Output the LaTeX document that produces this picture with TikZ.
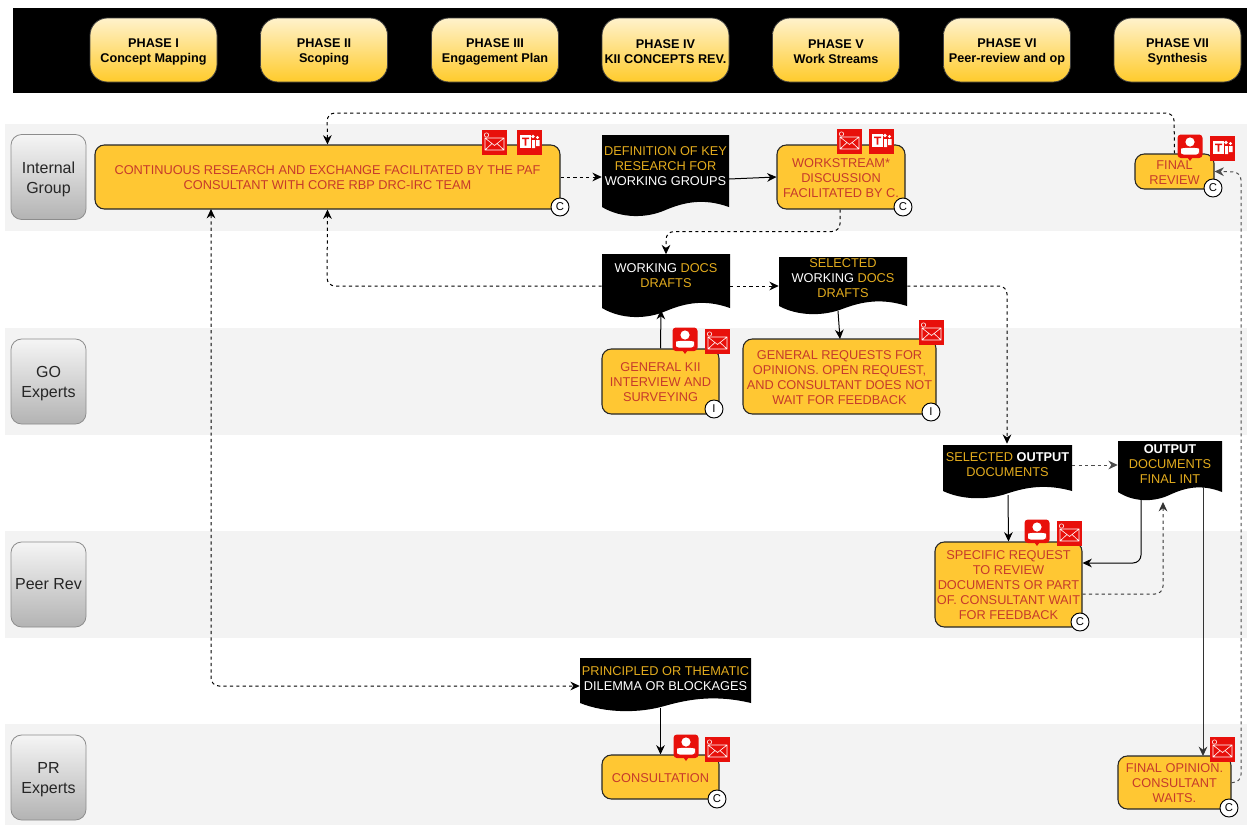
\documentclass[tikz,border=0pt]{standalone}
\usepackage{fontspec}
\setmainfont{Liberation Sans}
\usetikzlibrary{arrows.meta,calc,shadows}
\definecolor{lanegray}{HTML}{F3F3F3}
\definecolor{boxfill}{HTML}{FFC733}
\definecolor{boxtext}{HTML}{C63A2B}
\definecolor{gold}{HTML}{E3AC1E}
\definecolor{iconred}{HTML}{E8100B}
\definecolor{phasetop}{HTML}{FFF2CC}
\definecolor{phasebot}{HTML}{FFCB2B}
\definecolor{lanetop}{HTML}{F5F5F5}
\definecolor{lanebot}{HTML}{B3B3B3}
\newcommand{\wh}[1]{\textcolor{white}{#1}}
\newcommand{\phst}{\rule{0pt}{9.1pt}}
\newcommand{\tkst}{\rule{0pt}{8pt}}
\newcommand{\lnst}{\rule{0pt}{11.8pt}}
\newcommand{\docshape}[5]{% x0,y0,x1,yb (wave start), amp
  \fill[black] (#1,#2) -- (#3,#2) -- (#3,#4)
    .. controls ($(#3,#4)+({-0.2*(#3-#1)},-#5*0.9)$) and ($(#3,#4)+({-0.35*(#3-#1)},-#5*0.5)$) .. ({(#1+#3)/2},{#4+#5*0.3})
    .. controls ({#1+0.35*(#3-#1)},{#4+#5*1.15}) and ({#1+0.15*(#3-#1)},{#4+#5*1.15}) .. (#1,#4) -- cycle;}
\tikzset{
  lane/.style={fill=lanegray,draw=none},
  phasebox/.style={rounded corners=13,draw=black!75,line width=.6pt,top color=phasetop,bottom color=phasebot,
    minimum width=127*.75pt,minimum height=64*.75pt,align=center,font=\fontsize{9.5}{11.25}\selectfont\bfseries,text=black,inner sep=0pt},
  lanelabel/.style={rounded corners=8,draw=black!45,line width=.6pt,top color=lanetop,bottom color=lanebot,
    minimum width=75*.75pt,minimum height=85*.75pt,align=center,font=\fontsize{12}{15}\selectfont,text=black!85,inner sep=0pt},
  task/.style={rounded corners=7,draw=black!85,line width=.8pt,fill=boxfill,text=boxtext,align=center,
    font=\fontsize{9.58}{11.25}\selectfont,inner sep=0pt},
  doctext/.style={align=center,font=\fontsize{9.58}{11.25}\selectfont,inner sep=0pt,text=gold},
  badge/.style={circle,draw=black,line width=.7pt,fill=white,minimum size=18*.75pt,inner sep=0pt,font=\fontsize{8.5}{9}\selectfont},
  flow/.style={draw=black,line width=.75pt,-{Stealth[length=7pt,width=6.5pt]},rounded corners=6},
  dflow/.style={flow,dash pattern=on 2.4pt off 2.4pt},
  mailicon/.pic={
    \fill[iconred] (-12.5,-12.5) rectangle (12.5,12.5);
    \draw[white,line width=.45pt] (-9,-4) rectangle (10,8) (-9,-4) -- (0.5,3.5) -- (10,-4) (-9,8) -- (-2,1.5) (10,8) -- (3,1.5);
    \draw[white,line width=.4pt] (-7.5,-7) circle (2.2);
  },
  teamsicon/.pic={
    \fill[iconred] (-12.5,-12.5) rectangle (12.5,12.5);
    \fill[white] (-9,-7) rectangle (2,6);
    \fill[iconred] (-7,-4.5) rectangle (0,-3) (-4.3,-4.5) rectangle (-2.7,3.5);
    \fill[white] (4,-5.5) circle (1.9) (8.5,-4.5) circle (1.6) (3,-2) rectangle (6,6) (7,-2) rectangle (10.5,4);
  },
  personicon/.pic={
    \fill[iconred,rounded corners=2.5] (-12.5,-12.5) rectangle (12.5,11);
    \fill[iconred] (-2.5,10.5) -- (2.5,10.5) -- (0,14) -- cycle;
    \fill[white] (0,-5) circle (4.6);
    \fill[white,rounded corners=2] (-9,7.5) -- (-9,4.5) .. controls (-9,0.5) and (9,0.5) .. (9,4.5) -- (9,7.5) -- cycle;
  },
}
\begin{document}
\begin{tikzpicture}[x=.75pt,y=-.75pt]
\useasboundingbox (0,0) rectangle (1247,825);
% lanes and header band
\fill[lane] (5,124) rectangle (1247,231);
\fill[lane] (5,328) rectangle (1247,435);
\fill[lane] (5,531) rectangle (1247,638);
\fill[lane] (5,724) rectangle (1247,825);
\fill[black] (13,8) rectangle (1247,93);
% phases
\node[phasebox] (p1) at (153.5,50) {\phst PHASE I\\Concept Mapping};
\node[phasebox] (p2) at (324,50) {\phst PHASE II\\Scoping};
\node[phasebox] (p3) at (495,50) {\phst PHASE III\\Engagement Plan};
\node[phasebox] (p4) at (665.5,50) {\phst PHASE IV\\KII CONCEPTS REV.};
\node[phasebox] (p5) at (836,50) {\phst PHASE V\\Work Streams};
\node[phasebox] (p6) at (1007,50) {\phst PHASE VI\\Peer-review and op};
\node[phasebox] (p7) at (1177.5,50) {\phst PHASE VII\\Synthesis};
% lane labels
\node[lanelabel] (l1) at (48.5,177) {\lnst Internal\\Group};
\node[lanelabel] (l2) at (48.5,381.5) {\lnst GO\\Experts};
\node[lanelabel] (l3) at (48.5,584.5) {Peer Rev};
\node[lanelabel] (l4) at (48.5,777.5) {\lnst PR\\Experts};
% document shapes
\docshape{602}{135}{729}{207}{10}
\docshape{602}{254}{730}{308}{10}
\docshape{779}{257}{907}{306}{9}
\docshape{943}{445}{1072}{491}{8}
\docshape{1118}{441}{1222}{492}{9}
\docshape{580}{658}{751}{703}{9}
% tasks
\node[task,minimum width=465*.75pt,minimum height=64*.75pt] (research) at (327.5,177) {\tkst CONTINUOUS RESEARCH AND EXCHANGE FACILITATED BY THE PAF\\CONSULTANT WITH CORE RBP DRC-IRC TEAM};
\node[task,minimum width=128*.75pt,minimum height=64*.75pt] (stream) at (841,177) {\tkst WORKSTREAM*\\DISCUSSION\\FACILITATED BY C.};
\node[task,minimum width=79*.75pt,minimum height=35*.75pt] (review) at (1174.5,171.5) {\tkst FINAL\\REVIEW};
\node[task,minimum width=117*.75pt,minimum height=65*.75pt] (kii) at (660.5,381.5) {\tkst GENERAL KII\\INTERVIEW AND\\SURVEYING};
\node[task,minimum width=193*.75pt,minimum height=75*.75pt] (requests) at (839.5,376.5) {\tkst GENERAL REQUESTS FOR\\OPINIONS. OPEN REQUEST,\\AND CONSULTANT DOES NOT\\WAIT FOR FEEDBACK};
\node[task,minimum width=147*.75pt,minimum height=85*.75pt] (specific) at (1008.5,584.5) {\tkst SPECIFIC REQUEST\\TO REVIEW\\DOCUMENTS OR PART\\OF. CONSULTANT WAIT\\FOR FEEDBACK};
\node[task,minimum width=117*.75pt,minimum height=44*.75pt] (consult) at (660.5,777) {\tkst CONSULTATION};
\node[task,minimum width=113*.75pt,minimum height=53*.75pt] (opinion) at (1174.5,782.5) {\tkst FINAL OPINION.\\CONSULTANT\\WAITS.};
% document texts
\node[doctext,minimum width=127*.75pt,minimum height=62*.75pt] (defn) at (665.5,166) {DEFINITION OF KEY\\RESEARCH FOR\\\wh{WORKING GROUPS}};
\node[doctext,minimum width=128*.75pt,minimum height=42*.75pt] (wdocs) at (666,275.5) {\wh{WORKING} DOCS\\DRAFTS};
\node[doctext,minimum width=128*.75pt,minimum height=42*.75pt] (sdocs) at (843,278) {SELECTED\\\wh{WORKING} DOCS\\DRAFTS};
\node[doctext,minimum width=129*.75pt,minimum height=42*.75pt] (soutput) at (1007.5,465) {SELECTED \wh{\bfseries OUTPUT}\\DOCUMENTS};
\node[doctext,minimum width=104*.75pt,minimum height=46*.75pt] (output) at (1170,464) {\wh{\bfseries OUTPUT}\\DOCUMENTS\\FINAL INT};
\node[doctext,minimum width=171*.75pt,minimum height=42*.75pt] (dilemma) at (665.5,679) {PRINCIPLED OR THEMATIC\\\wh{DILEMMA OR BLOCKAGES}};
% connectors
\draw[dflow] (review.north) -- (1174,113) -- (327,113) -- (research.north);
\draw[dflow] (research.east) -- (defn.west |- research.east);
\draw[flow] (729,179) -- (stream.west);
\draw[dflow] ($(stream.south)+(-1,0)$) -- ++(0,22) -| (wdocs.north);
\draw[dflow] (wdocs.west |- 0,286) -- (327,286) -- (research.south);
\draw[dflow] (wdocs.east |- 0,286) -- (sdocs.west |- 0,286);
\draw[dflow] (sdocs.east |- 0,286) -- (1007,286) -- (soutput.north -| 1007,0);
\draw[flow] (kii.north) -- (661,310);
\draw[flow] (838,311) -- (840,339);
\draw[flow] (1008,495) -- (specific.north);
\draw[dflow,draw=black!70] (soutput.east) -- (output.west |- soutput.east);
\draw[flow] (1141,498) -- (1141,563) -- (specific.east |- 0,563);
\draw[dflow,draw=black!80] (specific.east |- 0,594) -- (1163,594) -- (1163,502);
\draw[flow,draw=black!80] (1203,487) -- (1203,756);
\draw[dflow,draw=black!70] (opinion.east) -- (1241,782.5) -- (1241,172) -- (review.east);
\draw[dflow,{Stealth[length=7pt,width=6.5pt]}-{Stealth[length=7pt,width=6.5pt]}] (211,209) -- (211,686) -- (dilemma.west |- 0,686);
\draw[flow] (660.5,708) -- (consult.north);
% badges
\node[badge] (b1) at (560,207) {C};
\node[badge] (b2) at (903,207) {C};
\node[badge] (b3) at (1213,188) {C};
\node[badge] (b4) at (714,409) {I};
\node[badge] (b5) at (931,412) {I};
\node[badge] (b6) at (1080,622) {C};
\node[badge] (b7) at (717,799) {C};
\node[badge] (b8) at (1229,808) {C};
% icons
\pic at (494,142) {mailicon};
\pic at (529,142) {teamsicon};
\pic at (849,141) {mailicon};
\pic at (881,141) {teamsicon};
\pic at (1190,147) {personicon};
\pic at (1222,148) {teamsicon};
\pic at (685,340) {personicon};
\pic at (717,341) {mailicon};
\pic at (931,332) {mailicon};
\pic at (1037,532) {personicon};
\pic at (1069,533) {mailicon};
\pic at (686,747) {personicon};
\pic at (717,749) {mailicon};
\pic at (1222,749) {mailicon};
\end{tikzpicture}
\end{document}
